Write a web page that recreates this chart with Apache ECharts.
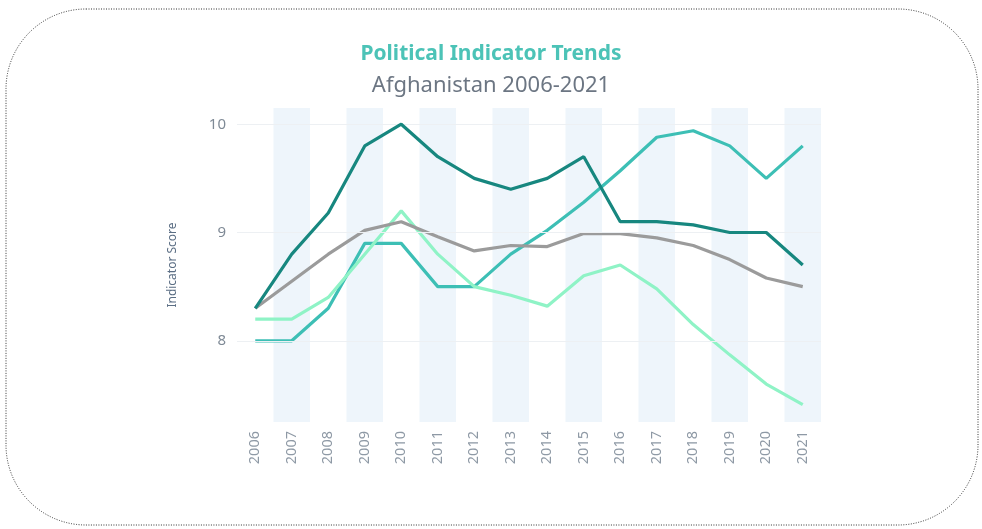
<!DOCTYPE html>
<html>
<head>
<meta charset="utf-8">
<script src="https://cdn.jsdelivr.net/npm/echarts@6/dist/echarts.min.js"></script>
<style>
  html, body { margin: 0; padding: 0; background: #fff; }
  #main { width: 982px; height: 529px; }
</style>
</head>
<body>
<div id="main"></div>
<script>
var years = ['2006', '2007', '2008', '2009', '2010', '2011', '2012', '2013',
             '2014', '2015', '2016', '2017', '2018', '2019', '2020', '2021'];
var yTicks = [8, 9, 10];
// four political indicators
var indicatorA = [8.3, 8.8, 9.18, 9.8, 10.0, 9.7, 9.5, 9.4, 9.5, 9.7, 9.1, 9.1, 9.07, 9.0, 9.0, 8.7];
var indicatorB = [8.0, 8.0, 8.3, 8.9, 8.9, 8.5, 8.5, 8.8, 9.02, 9.28, 9.57, 9.88, 9.94, 9.8, 9.5, 9.8];
var indicatorC = [8.2, 8.2, 8.4, 8.8, 9.2, 8.8, 8.5, 8.42, 8.32, 8.6, 8.7, 8.48, 8.15, 7.87, 7.6, 7.41];
var indicatorD = [8.3, 8.55, 8.8, 9.02, 9.1, 8.96, 8.83, 8.88, 8.87, 8.99, 8.99, 8.95, 8.88, 8.75, 8.58, 8.5];

var myChart = echarts.init(document.getElementById('main'));

var option = {
    backgroundColor: '#fff',
    textStyle: { fontFamily: 'Noto Sans' },
    title: {
        text: 'Political Indicator Trends',
        subtext: 'Afghanistan 2006-2021',
        left: 'center',
        top: 39,
        itemGap: 10,
        textStyle: { color: '#4cc3b7', fontSize: 21, fontWeight: 'bold' },
        subtextStyle: { color: '#6c7683', fontSize: 22 }
    },
    graphic: [{
        type: 'rect',
        shape: { x: 6, y: 9, width: 972, height: 516, r: 80 },
        style: { fill: 'none', stroke: '#333', lineWidth: 1, lineDash: [1, 1.5] },
        silent: true
    }],
    grid: { left: 237, right: 161, top: 108, bottom: 107 },
    xAxis: {
        type: 'category',
        data: years,
        boundaryGap: true,
        axisLine: { show: false },
        axisTick: { show: false },
        axisLabel: { rotate: 90, color: '#8e99a5', fontSize: 14.5, margin: 9 },
        splitLine: { show: false },
        splitArea: { show: true, areaStyle: { color: ['rgba(255,255,255,0)', '#eef5fb'] } }
    },
    yAxis: {
        type: 'value',
        min: 7.25,
        max: 10.15,
        name: 'Indicator Score',
        nameLocation: 'middle',
        nameGap: 58,
        nameTextStyle: { color: '#5b6e84', fontSize: 12 },
        axisLine: { show: false },
        axisTick: { show: false },
        splitLine: { show: false },
        axisLabel: { customValues: yTicks, color: '#7f8a96', fontSize: 15, margin: 11 }
    },
    series: [{
        name: 'Indicator B',
        type: 'line',
        data: indicatorB,
        symbol: 'none',
        lineStyle: { color: '#3dbfb5', width: 3.2 },
        markLine: {
            silent: true,
            symbol: 'none',
            label: { show: false },
            lineStyle: { color: '#edf0f3', width: 1, type: 'solid' },
            data: yTicks.map(function (v) { return { yAxis: v }; })
        },
        z: 2
    }, {
        name: 'Indicator C',
        type: 'line',
        data: indicatorC,
        symbol: 'none',
        lineStyle: { color: '#8ff3c6', width: 3.2 },
        z: 3
    }, {
        name: 'Indicator D',
        type: 'line',
        data: indicatorD,
        symbol: 'none',
        lineStyle: { color: '#9b9b9b', width: 3.2 },
        z: 4
    }, {
        name: 'Indicator A',
        type: 'line',
        data: indicatorA,
        symbol: 'none',
        lineStyle: { color: '#17877f', width: 3.2 },
        z: 5
    }]
};

myChart.setOption(option);
</script>
</body>
</html>
